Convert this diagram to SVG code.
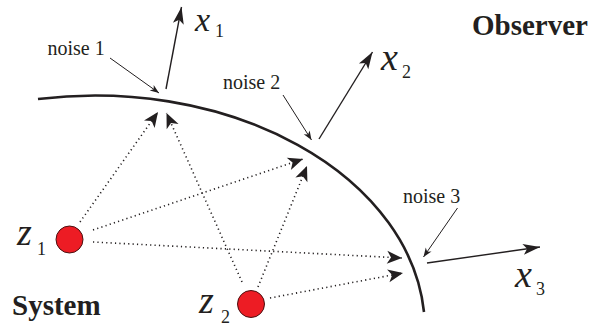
<svg xmlns="http://www.w3.org/2000/svg" width="592" height="327" viewBox="0 0 592 327">
  <defs>
    <style>
      .lbl { font-family: "Liberation Serif", "Times New Roman", serif; fill: #231f20; }
      .noise { font-size: 20px; }
      .title { font-size: 29px; font-weight: bold; }
      .var { font-size: 38px; font-style: italic; }
      .sub { font-size: 18px; }
      .solid { stroke: #231f20; stroke-width: 1.4; fill: none; }
      .thin { stroke: #231f20; stroke-width: 1; fill: none; }
      .dot { stroke: #231f20; stroke-width: 1.6; fill: none; stroke-dasharray: 1.2 3.2; }
      .node { fill: #ed1c24; stroke: #4a1010; stroke-width: 1; }
    </style>
    <marker id="ahDot" viewBox="-16 -8 17 16" refX="0" refY="0" markerWidth="17" markerHeight="16" orient="auto" markerUnits="userSpaceOnUse">
      <path d="M0,0 L-15,-6.5 L-11,0 L-15,6.5 Z" fill="#231f20"/>
    </marker>
    <marker id="ahOut" viewBox="-18 -7 19 14" refX="0" refY="0" markerWidth="19" markerHeight="14" orient="auto" markerUnits="userSpaceOnUse">
      <path d="M0,0 L-17,-5.5 L-13,0 L-17,5.5 Z" fill="#231f20"/>
    </marker>
    <marker id="ahNoise" viewBox="-10 -5 11 10" refX="0" refY="0" markerWidth="11" markerHeight="10" orient="auto" markerUnits="userSpaceOnUse">
      <path d="M0,0 L-9,-3.5 L-6.5,0 L-9,3.5 Z" fill="#231f20"/>
    </marker>
  </defs>

  <g id="boundary">
    <path d="M38,99 A330,234 0 0 1 424,312" fill="none" stroke="#231f20" stroke-width="2.6"/>
  </g>

  <g id="connectors">
    <line class="dot" x1="80" y1="222" x2="158" y2="112" marker-end="url(#ahDot)"/>
    <line class="dot" x1="93" y1="230" x2="303" y2="159" marker-end="url(#ahDot)"/>
    <line class="dot" x1="93" y1="242" x2="402" y2="258" marker-end="url(#ahDot)"/>
    <line class="dot" x1="270" y1="298" x2="403" y2="273" marker-end="url(#ahDot)"/>
    <line class="dot" x1="258" y1="287" x2="307" y2="166" marker-end="url(#ahDot)"/>
    <line class="dot" x1="242" y1="282" x2="166.5" y2="113" marker-end="url(#ahDot)"/>
    <line class="solid" x1="166" y1="89" x2="181.5" y2="7" marker-end="url(#ahOut)"/>
    <line class="solid" x1="319" y1="139" x2="372.5" y2="52" marker-end="url(#ahOut)"/>
    <line class="solid" x1="427" y1="263" x2="540" y2="247" marker-end="url(#ahOut)"/>
    <line class="thin" x1="110" y1="58" x2="159" y2="93" marker-end="url(#ahNoise)"/>
    <line class="thin" x1="283" y1="95" x2="311.5" y2="140" marker-end="url(#ahNoise)"/>
    <line class="thin" x1="457.5" y1="208" x2="423.5" y2="257" marker-end="url(#ahNoise)"/>
  </g>

  <g id="z1">
    <circle class="node" cx="69.5" cy="239.5" r="13.5"/>
    <text class="lbl var" x="17" y="245">z</text>
    <text class="lbl sub" x="37" y="255">1</text>
  </g>
  <g id="z2">
    <circle class="node" cx="251" cy="304" r="13.5"/>
    <text class="lbl var" x="199" y="313">z</text>
    <text class="lbl sub" x="221" y="323">2</text>
  </g>

  <g id="x1">
    <text class="lbl var" x="195" y="31" style="font-size:34px">x</text>
    <text class="lbl sub" x="215" y="37">1</text>
  </g>
  <g id="x2">
    <text class="lbl var" x="381" y="70">x</text>
    <text class="lbl sub" x="402" y="78">2</text>
  </g>
  <g id="x3">
    <text class="lbl var" x="515" y="287">x</text>
    <text class="lbl sub" x="536" y="295">3</text>
  </g>

  <g id="noise1"><text class="lbl noise" x="47.5" y="55">noise 1</text></g>
  <g id="noise2"><text class="lbl noise" x="223" y="89">noise 2</text></g>
  <g id="noise3"><text class="lbl noise" x="403" y="203">noise 3</text></g>

  <g id="observer"><text class="lbl title" x="472" y="35">Observer</text></g>
  <g id="system"><text class="lbl title" x="12" y="315">System</text></g>
</svg>
